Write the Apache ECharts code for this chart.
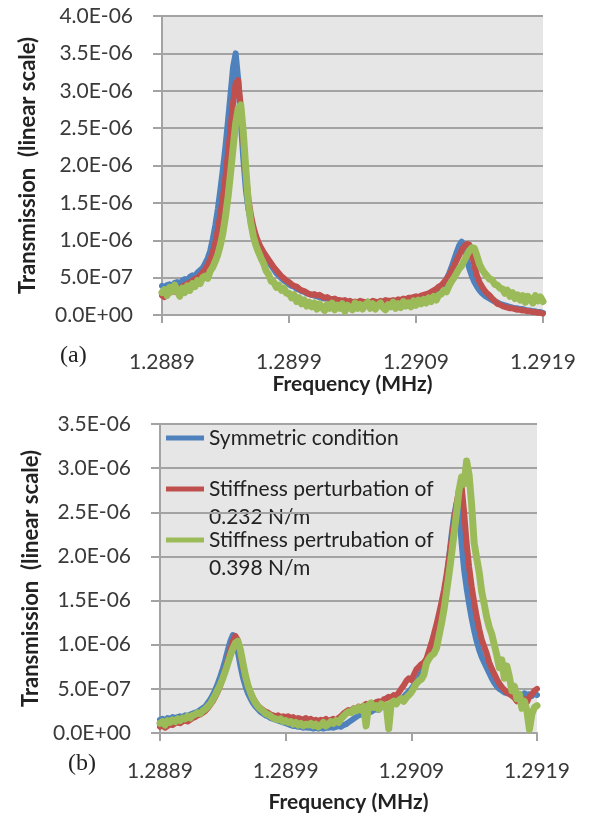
<!DOCTYPE html>
<html>
<head>
<meta charset="utf-8">
<title>Transmission vs Frequency</title>
<script src="https://cdn.jsdelivr.net/npm/echarts@6/dist/echarts.min.js"></script>
<style>
html,body{margin:0;padding:0;background:#fff;}
#main{width:594px;height:818px;}
</style>
</head>
<body>
<div id="main"></div>
<script>
// 频率采样点 (MHz)
var freqStart = 1.2889;
var freqStep = 0.00002;
var nPts = 151;
var freq = [];
for (var i = 0; i < nPts; i++) {
    freq.push((freqStart + i * freqStep).toFixed(5));
}
var xTickEvery = 50;

// 图例名称
var names = ['Symmetric condition', 'Stiffness perturbation of 0.232 N/m', 'Stiffness pertrubation of 0.398 N/m'];

// 纵轴刻度 (单位 1E-07)
var yMaxA = 40, yMaxB = 35, yStep = 5;

// (a) 透射值, 单位 1E-07
var blueA = [3.9,3.7,4.0,4.1,3.9,4.3,4.4,4.2,4.6,4.8,
4.7,5.1,5.3,5.2,5.7,6.0,6.3,6.9,7.6,8.6,
10.2,12.0,14.2,16.8,19.6,22.6,26.0,29.6,33.2,35.0,
31.5,26.0,21.0,16.8,14.2,12.4,11.1,10.1,9.3,8.7,
8.1,7.6,7.0,6.6,6.1,5.6,5.3,4.9,4.6,4.4,
4.1,3.9,3.8,3.5,3.4,3.2,3.1,2.9,2.8,2.7,
2.6,2.5,2.4,2.3,2.2,2.2,2.0,2.0,1.9,1.8,
1.8,1.7,1.6,1.7,1.6,1.5,1.6,1.5,1.4,1.5,
1.4,1.5,1.4,1.3,1.5,1.4,1.5,1.4,1.6,1.5,
1.6,1.5,1.7,1.6,1.8,1.7,1.9,1.8,2.0,2.1,
2.1,2.3,2.2,2.4,2.5,2.6,2.8,3.0,3.2,3.6,
3.8,4.2,4.8,5.5,6.4,7.4,8.4,9.3,9.8,9.0,
7.6,6.2,5.2,4.4,3.8,3.3,2.9,2.6,2.4,2.2,
2.0,1.8,1.7,1.5,1.4,1.3,1.2,1.1,1.0,0.9,
0.9,0.8,0.8,0.7,0.6,0.6,0.5,0.5,0.4,0.4,0.3];
var redA = [2.6,2.4,2.8,3.0,3.2,3.1,3.5,3.6,3.8,4.0,
4.2,4.3,4.6,4.8,5.0,5.3,5.7,6.1,6.7,7.4,
8.4,9.7,11.4,13.4,15.8,18.5,21.6,25.0,28.4,31.0,
31.4,28.0,23.5,19.0,15.6,13.4,11.8,10.6,9.7,9.0,
8.4,7.9,7.4,6.9,6.4,6.0,5.6,5.2,4.9,4.6,
4.4,4.1,3.9,3.8,3.5,3.3,3.2,3.0,2.8,2.7,
2.8,2.6,2.7,2.5,2.3,2.4,2.2,2.1,2.2,2.0,
2.0,1.9,2.0,1.8,1.9,1.7,1.8,1.7,1.9,1.8,
1.7,1.8,1.7,1.9,1.8,1.7,1.9,1.8,2.0,1.9,
1.9,2.0,1.9,2.1,2.0,2.2,2.1,2.3,2.3,2.4,
2.5,2.4,2.6,2.7,2.8,2.9,3.1,3.3,3.5,3.8,
4.0,4.4,4.8,5.3,5.9,6.6,7.3,8.0,8.7,9.2,
9.5,9.4,8.2,6.6,5.3,4.4,3.8,3.3,2.9,2.6,
2.2,1.9,1.5,1.4,1.2,1.1,1.0,0.9,0.9,0.8,
0.7,0.7,0.6,0.6,0.5,0.5,0.4,0.4,0.3,0.3,0.2];
var greenA = [3.0,3.4,2.6,3.7,3.1,4.0,3.2,2.5,3.6,3.0,
3.9,3.3,4.2,3.8,4.6,4.2,5.0,5.2,4.9,5.9,
6.4,7.2,8.1,9.4,11.0,13.2,15.8,19.0,22.4,25.6,
27.6,28.1,24.5,19.5,15.0,12.3,10.5,9.3,8.4,7.6,
6.9,5.9,5.4,4.5,4.4,3.7,4.0,3.3,3.6,2.9,
2.9,2.3,2.7,1.8,2.3,1.5,2.0,1.2,1.7,1.1,
1.6,0.8,1.5,1.0,0.6,1.4,0.9,1.6,0.7,1.3,
0.9,1.5,0.5,1.3,1.0,0.7,1.6,0.9,1.4,0.8,
1.4,1.7,0.9,1.5,0.8,1.3,1.6,1.0,0.7,1.4,
1.1,1.7,0.9,1.5,1.0,1.8,1.2,1.6,1.1,1.9,
1.3,2.0,1.5,2.1,1.6,2.3,1.8,2.5,2.0,2.7,
2.8,3.3,3.1,3.9,4.5,5.0,5.6,6.2,6.6,7.3,
8.0,8.6,9.0,8.9,7.9,6.8,6.1,5.6,5.2,4.8,
4.7,4.1,4.0,3.6,3.5,2.9,3.3,2.5,3.0,2.2,
2.7,2.0,2.6,1.7,2.5,2.1,1.6,2.6,1.9,2.4,1.8];

// (b) 透射值, 单位 1E-07
var blueB = [1.5,1.6,1.4,1.7,1.6,1.8,1.7,1.8,1.9,1.8,
2.0,1.9,2.1,2.2,2.3,2.4,2.6,2.8,3.0,3.4,
3.8,4.3,4.9,5.6,6.4,7.3,8.3,9.4,10.4,11.1,
10.6,9.2,7.6,6.3,5.3,4.5,3.9,3.4,3.0,2.7,
2.4,2.2,2.0,1.9,1.7,1.6,1.5,1.4,1.3,1.2,
1.1,1.0,0.9,0.8,0.8,0.7,0.7,0.6,0.7,0.6,
0.6,0.5,0.6,0.5,0.6,0.5,0.6,0.6,0.7,0.6,
0.7,0.8,0.7,0.9,1.0,1.2,1.4,1.6,1.8,2.0,
2.1,2.3,2.2,2.5,2.4,2.6,2.7,2.6,2.9,3.0,
3.1,3.0,3.3,3.4,3.5,3.7,3.9,4.1,4.4,4.7,
5.0,5.4,5.8,6.3,6.9,7.5,8.2,9.0,9.9,11.0,
12.0,13.0,14.2,15.6,17.5,19.8,22.4,24.6,26.0,25.0,
21.5,18.5,16.4,14.6,13.0,11.6,10.4,9.4,8.6,8.0,
7.4,6.8,6.2,5.7,5.3,5.0,4.8,4.6,4.5,4.6,
4.4,4.5,4.3,4.4,4.2,4.5,4.3,4.4,4.2,4.5,4.3];
var redB = [0.7,0.9,0.6,0.8,1.0,0.9,1.1,1.2,1.1,1.3,
1.4,1.3,1.5,1.7,1.8,2.0,2.1,2.3,2.5,2.8,
3.2,3.6,4.1,4.7,5.4,6.2,7.2,8.3,9.4,10.4,
11.0,10.5,9.0,7.5,6.3,5.3,4.6,4.0,3.5,3.1,
2.8,2.6,2.4,2.3,2.1,2.0,1.9,2.0,1.8,1.9,
1.8,1.9,1.7,1.8,1.6,1.7,1.6,1.5,1.7,1.5,
1.6,1.4,1.5,1.3,1.5,1.4,1.6,1.3,1.5,1.6,
1.4,1.7,1.9,2.2,2.4,2.6,2.5,2.8,2.7,3.0,
2.9,3.1,3.3,3.2,3.4,3.3,3.5,3.6,3.5,3.8,
3.9,4.1,4.0,4.3,4.2,4.6,5.0,5.4,5.9,6.2,
6.0,6.6,7.2,7.5,7.8,8.0,8.4,9.3,10.2,11.2,
12.3,13.5,14.8,16.2,17.9,19.8,21.9,24.0,26.0,27.6,
28.0,25.0,21.5,18.8,16.6,14.8,13.2,11.8,10.6,9.8,
9.0,8.0,7.3,6.7,6.1,5.6,5.2,4.9,4.6,4.4,
4.2,4.0,3.6,3.9,3.3,3.8,3.5,4.1,4.4,4.8,5.0];
var greenB = [1.1,1.3,0.9,1.4,1.2,1.5,1.3,1.6,1.4,1.7,
1.6,1.9,1.7,2.0,2.1,2.3,2.2,2.5,2.7,3.0,
3.3,3.8,4.3,4.9,5.5,6.2,7.0,7.9,8.8,9.6,
10.2,10.4,9.4,7.9,6.5,5.4,4.6,3.9,3.4,3.0,
2.7,2.5,2.2,2.1,1.9,1.7,1.6,1.5,1.6,1.3,
1.4,1.2,1.3,1.0,1.2,0.9,1.1,0.8,1.0,0.9,
1.1,0.8,1.0,0.7,0.9,1.2,0.8,1.0,1.3,1.1,
1.4,1.2,1.6,1.9,2.2,2.4,2.3,2.7,2.5,2.9,
2.6,3.0,0.8,3.2,3.4,2.9,3.1,2.7,3.3,3.0,
3.2,0.5,3.4,3.6,3.3,3.7,3.9,3.6,4.0,4.3,
4.6,5.1,5.6,5.9,6.1,6.6,7.9,8.4,8.8,9.0,
9.6,11.0,12.4,14.0,16.0,18.0,20.2,22.6,25.0,27.5,
29.0,28.2,30.8,29.2,25.8,21.5,19.8,18.2,16.0,14.6,
13.1,12.0,11.2,10.0,8.8,7.4,8.3,6.2,7.6,6.4,
4.8,5.3,3.9,4.4,2.8,3.6,2.5,0.4,2.2,2.9,3.1];

var colors = ['#4f81bd', '#c0504d', '#9bbb59'];
var widths = [6, 6, 7];
var grey = '#a3a3a3';
var font = 'Lato';

// 科学计数法标签, 如 3.5E-06
function sci(v){
    var s = (v * 1e-7).toExponential(1).split('e');
    var e = parseInt(s[1], 10);
    var a = Math.abs(e);
    return s[0] + 'E' + (e < 0 ? '-' : '+') + (a < 10 ? '0' : '') + a;
}
function showTick(idx){
    return idx % xTickEvery === 0;
}

function makeX(g, margin, gap){
    return {
        type: 'category', gridIndex: g, data: freq, boundaryGap: false,
        axisLine: {show: true, lineStyle: {color: grey, width: 2}},
        axisTick: {show: true, interval: showTick, length: 8, lineStyle: {color: grey, width: 2}},
        axisLabel: {interval: showTick, margin: margin, fontSize: 21, fontFamily: font, color: '#3a3a3a',
            formatter: function(v){ return Number(v).toFixed(4); }},
        splitLine: {show: false},
        name: 'Frequency (MHz)', nameLocation: 'middle', nameGap: gap,
        nameTextStyle: {fontSize: 21, fontWeight: 'bold', fontFamily: font, color: '#222'}
    };
}
function makeY(g, max, gap){
    return {
        type: 'value', gridIndex: g, min: 0, max: max, interval: yStep,
        axisLine: {show: true, lineStyle: {color: grey, width: 2}},
        axisTick: {show: true, length: 9, lineStyle: {color: grey, width: 2}},
        axisLabel: {margin: 29, fontSize: 21, fontFamily: font, color: '#3a3a3a', formatter: sci},
        splitLine: {show: true, lineStyle: {color: grey, width: 2}},
        name: 'Transmission  (linear scale)', nameLocation: 'middle', nameGap: gap,
        nameTextStyle: {fontSize: 22, fontWeight: 'bold', fontFamily: font, color: '#222'}
    };
}
function makeSeries(k, g, data){
    return {
        type: 'line', name: names[k], xAxisIndex: g, yAxisIndex: g, data: data,
        symbol: 'none', silent: true, z: 2 + k,
        itemStyle: {color: colors[k]},
        lineStyle: {color: colors[k], width: widths[k], join: 'round', cap: 'round'}
    };
}

var chart = echarts.init(document.getElementById('main'));
var option = {
    animation: false,
    backgroundColor: '#fff',
    grid: [
        {left: 162, top: 16, right: 51, bottom: 503, show: true, backgroundColor: '#e6e6e6', borderWidth: 0},
        {left: 160, top: 424, right: 57, bottom: 85, show: true, backgroundColor: '#e6e6e6', borderWidth: 0}
    ],
    xAxis: [makeX(0, 37, 59), makeX(1, 28, 59)],
    yAxis: [makeY(0, yMaxA, 123), makeY(1, yMaxB, 118)],
    legend: {
        orient: 'vertical', left: 166, top: 427, padding: 0,
        itemWidth: 38, itemHeight: 5, itemGap: 29, icon: 'rect',
        data: names,
        textStyle: {fontSize: 21, lineHeight: 22, fontFamily: font, color: '#222'},
        formatter: function(n){ return n.replace(/ 0\.\d+ N\/m$/, ''); }
    },
    graphic: [
        {type: 'text', left: 60, top: 344, style: {text: '(a)', fontSize: 24, fontFamily: 'Liberation Serif', fill: '#222'}},
        {type: 'text', left: 68, top: 752, style: {text: '(b)', fontSize: 24, fontFamily: 'Liberation Serif', fill: '#222'}},
        {type: 'text', left: 209, top: 507, style: {text: '0.232 N/m', fontSize: 21, fontFamily: font, fill: '#222'}},
        {type: 'text', left: 209, top: 558, style: {text: '0.398 N/m', fontSize: 21, fontFamily: font, fill: '#222'}}
    ],
    series: [
        makeSeries(0, 0, blueA), makeSeries(1, 0, redA), makeSeries(2, 0, greenA),
        makeSeries(0, 1, blueB), makeSeries(1, 1, redB), makeSeries(2, 1, greenB)
    ]
};
chart.setOption(option);
</script>
</body>
</html>
